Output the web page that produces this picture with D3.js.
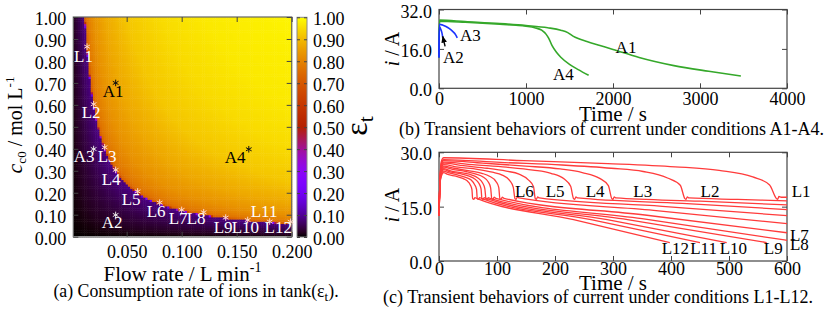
<!DOCTYPE html>
<html>
<head>
<meta charset="utf-8">
<script src="https://cdn.jsdelivr.net/npm/d3@7"></script>
<style>
  body { margin: 0; background: #fff; }
  svg, text, tspan { font-family: "Liberation Serif", Tinos, "Nimbus Roman", "DejaVu Serif", serif; }
</style>
</head>
<body>
<svg id="fig" width="830" height="312"></svg>
<script>
// ---------- (a) consumption rate map ----------
// eps_t read along lines of equal ion supply (flow rate x concentration)
var supplyRate  = [0, 0.002, 0.006, 0.0118, 0.0122, 0.0135, 0.016, 0.02, 0.03, 0.05, 0.08, 0.12, 0.2];
var epsAtSupply = [0, 0.02, 0.045, 0.085, 0.72, 0.77, 0.80, 0.83, 0.87, 0.92, 0.95, 0.97, 0.985];
var flowTicks = [0.05, 0.1, 0.15, 0.2];
var concTicks = [0, 0.1, 0.2, 0.3, 0.4, 0.5, 0.6, 0.7, 0.8, 0.9, 1.0];
var epsTicks  = [0, 0.1, 0.2, 0.3, 0.4, 0.5, 0.6, 0.7, 0.8, 0.9, 1.0];

var pointNames = ["L1","L2","L3","L4","L5","L6","L7","L8","L9","L10","L11","L12","A1","A2","A3","A4"];
var pointFlow  = [0.014, 0.020, 0.030, 0.040, 0.060, 0.080, 0.100, 0.120, 0.140, 0.160, 0.180, 0.199, 0.040, 0.040, 0.020, 0.161];
var pointConc  = [0.865, 0.603, 0.407, 0.304, 0.206, 0.155, 0.122, 0.111, 0.087, 0.076, 0.069, 0.068, 0.700, 0.099, 0.399, 0.398];

// ---------- (b) current, conditions A1-A4 ----------
var A1 = [[0,12.5],[5,27.7],[300,27.1],[700,26.3],[1000,25.5],[1250,24.6],[1400,23.6],[1480,22.6],[1540,21.2],[1600,20.2],[1700,19.0],[1850,17.4],[2000,15.8],[2300,12.5],[2700,9.2],[3100,6.9],[3470,5.0]];
var A2 = [[0,12.5],[4,25.0],[10,24.7],[20,24.0],[30,23.0],[38,21.7],[43,20.6]];
var A3 = [[0,12.5],[4,26.0],[40,25.7],[80,25.1],[120,24.2],[160,23.0],[190,21.8],[210,20.5]];
var A4 = [[0,12.5],[5,27.2],[300,26.8],[700,26.0],[1000,25.2],[1100,24.6],[1180,23.6],[1230,22.0],[1260,20.4],[1300,17.3],[1350,14.6],[1400,12.6],[1500,9.7],[1600,7.6],[1720,5.3]];
var timeTicksB = [0, 1000, 2000, 3000, 4000];
var currTicksB = [0, 16, 32];

// ---------- (c) current, conditions L1-L12 ----------
var L1  = [[0,12.5],[1.5,21],[4,27.5],[8,28.5],[146,27.7],[291,26.9],[407,26.0],[483,25.0],[541,23.2],[570,21.0],[582,17.2],[584,17.0],[586,17.8],[590,17.6],[600,17.6]];
var L2  = [[0,12.5],[1.5,21],[4,27.0],[8,28.0],[106,27.2],[212,26.5],[297,25.6],[352,24.7],[394,22.9],[416,20.9],[424,17.2],[426,17.0],[428,17.7],[431,17.4],[515,17.0],[600,16.6]];
var L3  = [[0,12.5],[1.5,21],[4,26.7],[8,27.7],[75,27.0],[149,26.2],[209,25.4],[247,24.4],[277,22.8],[292,20.8],[298,17.2],[300,17.0],[302,17.7],[305,17.4],[450,16.5],[600,15.5]];
var L4  = [[0,12.5],[1.5,21],[4,26.3],[8,27.3],[58,26.6],[116,25.9],[162,25.1],[193,24.2],[216,22.6],[227,20.6],[232,17.2],[234,17.0],[236,17.7],[239,17.4],[420,15.9],[600,14.2]];
var L5  = [[0,12.5],[1.5,21],[4,26.0],[8,27.0],[42,26.3],[83,25.6],[116,24.8],[138,24.0],[154,22.4],[163,20.5],[166,17.2],[168,17.0],[170,17.7],[173,17.4],[385,15.1],[600,12.5]];
var L6  = [[0,12.5],[1.5,21],[4,25.6],[8,26.6],[33,25.9],[66,25.3],[92,24.5],[109,23.7],[122,22.2],[128,20.4],[131,17.2],[133,17.0],[135,17.7],[138,17.4],[370,14.0],[600,10.3]];
var L7  = [[0,12.5],[1.5,21],[4,25.2],[8,26.2],[26,25.6],[53,24.9],[74,24.2],[87,23.4],[98,22.0],[103,20.3],[105,17.2],[107,17.0],[109,17.6],[112,17.3],[355,12.7],[600,7.8]];
var L8  = [[0,12.5],[1.5,21],[4,24.9],[8,25.9],[23,25.3],[46,24.7],[64,24.0],[76,23.2],[85,21.8],[89,20.2],[91,17.2],[93,17.0],[95,17.6],[98,17.3],[350,11.7],[600,5.7]];
var L9  = [[0,12.5],[1.5,21],[4,24.5],[8,25.5],[20,24.9],[41,24.3],[57,23.7],[67,22.9],[75,21.6],[79,20.0],[81,17.2],[83,17.0],[85,17.5],[88,17.3],[325,11.4],[565,5.1]];
var L10 = [[0,12.5],[1.5,21],[4,24.2],[8,25.2],[19,24.6],[37,24.1],[52,23.4],[61,22.7],[69,21.4],[72.5,19.9],[74,17.2],[76,17.0],[78,17.5],[81,17.3],[290,11.4],[496,5.1]];
var L11 = [[0,12.5],[1.5,21],[4,23.8],[8,24.8],[17,24.3],[33,23.7],[46,23.1],[55,22.4],[61,21.2],[64.7,19.8],[66,17.2],[68,17.0],[70,17.5],[73,17.3],[262,11.4],[450,5.1]];
var L12 = [[0,12.5],[1.5,21],[4,23.4],[8,24.4],[15,23.9],[29,23.4],[41,22.8],[48,22.2],[54,21.0],[56.8,19.7],[58,17.2],[60,17.0],[62,17.5],[65,17.3],[232,11.4],[398,5.1]];
var timeTicksC = [0, 100, 200, 300, 400, 500, 600];
var currTicksC = [0, 15, 30];

// label anchors (data coordinates) and offsets (px)
var heatLabelDx = [-13,-12,-7,-14,-16,-13,-13,-17,-12,-16,-19,-26,-13,-14,-20,-24];
var heatLabelDy = [15,14,15,15,14,14,14,12,15,13,-5,11,14,13,13,14];
var labelsB = [["A1",2030,14.4],["A2",46,10.3],["A3",241,19.3],["A4",1310,3.4]];
var labelsC = [["L1",608,17.6],["L2",451,17.6],["L3",335,17.6],["L4",253,17.6],["L5",184,17.6],["L6",131,17.6],
               ["L7",605,5.6],["L8",605,3.0],["L9",560,1.9],["L10",484,1.9],["L11",433,1.9],["L12",384,1.9]];

var FONT = '"Liberation Serif", Tinos, "Nimbus Roman", "DejaVu Serif", serif';
var svg = d3.select("#fig").attr("font-family", FONT);
svg.append("rect").attr("width", 830).attr("height", 312).attr("fill", "#fff");

// gnuplot default pm3d palette (rgbformulae 7,5,15)
function pm3d(v) {
  v = Math.max(0, Math.min(1, v));
  var r = Math.sqrt(v), g = v * v * v, b = Math.max(0, Math.sin(2 * Math.PI * v));
  return d3.rgb(r * 255, g * 255, b * 255).toString();
}

function styleAxis(g, size) {
  g.select(".domain").remove();
  g.attr("font-family", FONT).attr("font-size", size);
  g.selectAll("line").attr("stroke", "#444");
  g.selectAll("text").attr("fill", "#000");
}

// ================= panel (a) =================
var xq = d3.scaleLinear().domain([0.0015, 0.2]).range([73.3, 291.7]);
var yc = d3.scaleLinear().domain([0, 1]).range([236.7, 17]);
var epsOf = d3.scaleLinear().domain(supplyRate).range(epsAtSupply).clamp(true);

var nq = 100, nc = 100;
var dq = (0.2 - 0.0015) / nq, dc = 1 / nc;
var cells = [];
d3.range(nq).forEach(function (i) {
  d3.range(nc).forEach(function (j) {
    var q = 0.0015 + (i + 0.5) * dq, c = (j + 0.5) * dc;
    cells.push({ q: q, c: c, e: epsOf(q * c) });
  });
});
var cw = xq(dq) - xq(0), ch = yc(0) - yc(dc);
svg.append("g").selectAll("rect").data(cells).join("rect")
  .attr("x", function (d) { return xq(d.q) - cw / 2; })
  .attr("y", function (d) { return yc(d.c) - ch / 2; })
  .attr("width", cw + 0.5).attr("height", ch + 0.5)
  .attr("fill", function (d) { return pm3d(d.e); });

svg.append("rect").attr("x", xq(0.0015)).attr("y", yc(1))
  .attr("width", xq(0.2) - xq(0.0015)).attr("height", yc(0) - yc(1))
  .attr("fill", "none").attr("stroke", "#666").attr("stroke-width", 1.2);
svg.append("line").attr("x1", xq(0.0015)).attr("x2", xq(0.2)).attr("y1", yc(0)).attr("y2", yc(0))
  .attr("stroke", "#9a9a9a").attr("stroke-width", 1.6);

svg.append("g").attr("transform", "translate(0," + yc(0) + ")")
  .call(d3.axisBottom(xq).tickValues(flowTicks).tickSize(-5).tickPadding(9).tickFormat(d3.format(".3f")))
  .call(styleAxis, 18);
svg.append("g").attr("transform", "translate(0," + yc(1) + ")")
  .call(d3.axisTop(xq).tickValues(flowTicks).tickSize(-5).tickFormat(""))
  .call(styleAxis, 18);
svg.append("g").attr("transform", "translate(" + xq(0.0015) + ",0)")
  .call(d3.axisLeft(yc).tickValues(concTicks).tickSize(-5).tickPadding(7).tickFormat(d3.format(".2f")))
  .call(styleAxis, 18)
  .selectAll("text").attr("dy", "0.42em");
svg.append("g").attr("transform", "translate(" + xq(0.2) + ",0)")
  .call(d3.axisRight(yc).tickValues(concTicks).tickSize(-5).tickFormat(""))
  .call(styleAxis, 18);

// points and labels
var star = d3.symbol().type(d3.symbolAsterisk).size(30);
pointNames.forEach(function (name, k) {
  var px = xq(pointFlow[k]), py = yc(pointConc[k]);
  var dark = (name === "A1" || name === "A4");
  svg.append("path").attr("d", star).attr("transform", "translate(" + px + "," + py + ")")
    .attr("fill", "none").attr("stroke", dark ? "#111" : (name[0] === "L" ? "#ffd8c8" : "#e8e8e8")).attr("stroke-width", 1);
  svg.append("text").attr("x", px + heatLabelDx[k]).attr("y", py + heatLabelDy[k])
    .attr("font-size", 17).attr("fill", dark ? "#000" : "#fff").text(name);
});

// colour box
var cb = d3.scaleLinear().domain([0, 1]).range([237, 17.3]);
var defs = svg.append("defs");
var grad = defs.append("linearGradient").attr("id", "cbgrad").attr("x1", 0).attr("y1", 1).attr("x2", 0).attr("y2", 0);
d3.range(0, 1.0001, 0.02).forEach(function (v) {
  grad.append("stop").attr("offset", v).attr("stop-color", pm3d(v));
});
svg.append("rect").attr("x", 297).attr("y", cb(1)).attr("width", 10).attr("height", cb(0) - cb(1))
  .attr("fill", "url(#cbgrad)").attr("stroke", "#888").attr("stroke-width", 1);
var cbAxis = svg.append("g").attr("transform", "translate(307,0)")
  .call(d3.axisRight(cb).tickValues(epsTicks).tickSize(-3).tickPadding(6).tickFormat(d3.format(".2f")))
  .call(styleAxis, 18);
cbAxis.selectAll("text").attr("dy", "0.42em");
svg.append("g").attr("transform", "translate(297,0)")
  .call(d3.axisLeft(cb).tickValues(epsTicks).tickSize(-3).tickFormat(""))
  .call(styleAxis, 18);

// titles (a)
var ytA = svg.append("text").attr("transform", "translate(22,125) rotate(-90)").attr("text-anchor", "middle").attr("font-size", 20);
ytA.append("tspan").attr("font-style", "italic").attr("font-size", 22).text("c");
ytA.append("tspan").attr("font-size", 13).attr("dy", 4).text("c0");
ytA.append("tspan").attr("dy", -4).text(" / mol L");
ytA.append("tspan").attr("font-size", 13).attr("dy", -8).text("-1");

var epsT = svg.append("text").attr("transform", "translate(367,126) rotate(-90)").attr("text-anchor", "middle").attr("font-size", 32);
epsT.append("tspan").text("\u03b5");
epsT.append("tspan").attr("font-size", 22).attr("dy", 6).text("t");

var xtA = svg.append("text").attr("x", 182.5).attr("y", 281).attr("text-anchor", "middle").attr("font-size", 21);
xtA.append("tspan").text("Flow rate / L min");
xtA.append("tspan").attr("font-size", 14).attr("dy", -9).text("-1");

var capA = svg.append("text").attr("x", 196).attr("y", 297).attr("text-anchor", "middle").attr("font-size", 17.8);
capA.append("tspan").text("(a) Consumption rate of ions in tank(\u03b5");
capA.append("tspan").attr("font-size", 13).attr("dy", 4).text("t");
capA.append("tspan").attr("dy", -4).text(").");

// ================= panels (b) and (c) =================
function currentPanel(top, bottom, xMax, yMax, xTicks, yTicks, xLabBase) {
  var x = d3.scaleLinear().domain([0, xMax]).range([439, 787]);
  var y = d3.scaleLinear().domain([0, yMax]).range([bottom, top]);
  svg.append("rect").attr("x", 439).attr("y", top).attr("width", 787 - 439).attr("height", bottom - top)
    .attr("fill", "none").attr("stroke", "#444").attr("stroke-width", 1.2);
  svg.append("g").attr("transform", "translate(0," + bottom + ")")
    .call(d3.axisBottom(x).tickValues(xTicks).tickSize(-5).tickPadding(xLabBase).tickFormat(d3.format("d")))
    .call(styleAxis, 18);
  svg.append("g").attr("transform", "translate(0," + top + ")")
    .call(d3.axisTop(x).tickValues(xTicks).tickSize(-5).tickFormat(""))
    .call(styleAxis, 18);
  svg.append("g").attr("transform", "translate(439,0)")
    .call(d3.axisLeft(y).tickValues(yTicks).tickSize(-5).tickPadding(7).tickFormat(d3.format(".1f")))
    .call(styleAxis, 18)
    .selectAll("text").attr("dy", "0.42em");
  svg.append("g").attr("transform", "translate(787,0)")
    .call(d3.axisRight(y).tickValues(yTicks).tickSize(-5).tickFormat(""))
    .call(styleAxis, 18);
  return { x: x, y: y };
}

function drawCurve(p, data, color, width) {
  var line = d3.line().x(function (d) { return p.x(d[0]); }).y(function (d) { return p.y(d[1]); })
    .curve(d3.curveMonotoneX);
  svg.append("path").datum(data).attr("d", line).attr("fill", "none")
    .attr("stroke", color).attr("stroke-width", width).attr("stroke-linejoin", "round");
}

function yTitle(cx, cy) {
  var t = svg.append("text").attr("transform", "translate(" + cx + "," + cy + ") rotate(-90)")
    .attr("text-anchor", "middle").attr("font-size", 20);
  t.append("tspan").attr("font-style", "italic").text("i");
  t.append("tspan").text(" / A");
}

// (b)
var pb = currentPanel(9.5, 88.3, 4000, 32, timeTicksB, currTicksB, 4);
[A1, A4].forEach(function (s) { drawCurve(pb, s, "#35a82a", 1.6); });
[A2, A3].forEach(function (s) { drawCurve(pb, s, "#1a32ff", 1.6); });
labelsB.forEach(function (l) {
  svg.append("text").attr("x", pb.x(l[1])).attr("y", pb.y(l[2])).attr("font-size", 17).text(l[0]);
});
defs.append("marker").attr("id", "arr").attr("viewBox", "0 0 10 10").attr("refX", 9).attr("refY", 5)
  .attr("markerWidth", 5).attr("markerHeight", 5).attr("orient", "auto")
  .append("path").attr("d", "M0,1 L10,5 L0,9 Z").attr("fill", "#000");
svg.append("line").attr("x1", pb.x(70)).attr("y1", pb.y(17.0)).attr("x2", pb.x(43)).attr("y2", pb.y(21.1))
  .attr("stroke", "#000").attr("stroke-width", 1.4).attr("marker-end", "url(#arr)");
yTitle(399, 49);
svg.append("text").attr("x", 613).attr("y", 120.5).attr("text-anchor", "middle").attr("font-size", 21).text("Time / s");
svg.append("text").attr("x", 611.5).attr("y", 135).attr("text-anchor", "middle").attr("font-size", 18)
  .text("(b) Transient behaviors of current under conditions A1-A4.");

// (c)
var pc = currentPanel(152.3, 261, 600, 30, timeTicksC, currTicksC, 1.5);
[L1, L2, L3, L4, L5, L6, L7, L8, L9, L10, L11, L12].forEach(function (s) { drawCurve(pc, s, "#ff3b3b", 1.3); });
labelsC.forEach(function (l) {
  svg.append("text").attr("x", pc.x(l[1])).attr("y", pc.y(l[2])).attr("font-size", 17).text(l[0]);
});
yTitle(399, 205);
svg.append("text").attr("x", 613).attr("y", 290).attr("text-anchor", "middle").attr("font-size", 21).text("Time / s");
svg.append("text").attr("x", 598).attr("y", 303).attr("text-anchor", "middle").attr("font-size", 18)
  .text("(c) Transient behaviors of current under conditions L1-L12.");
</script>
</body>
</html>
